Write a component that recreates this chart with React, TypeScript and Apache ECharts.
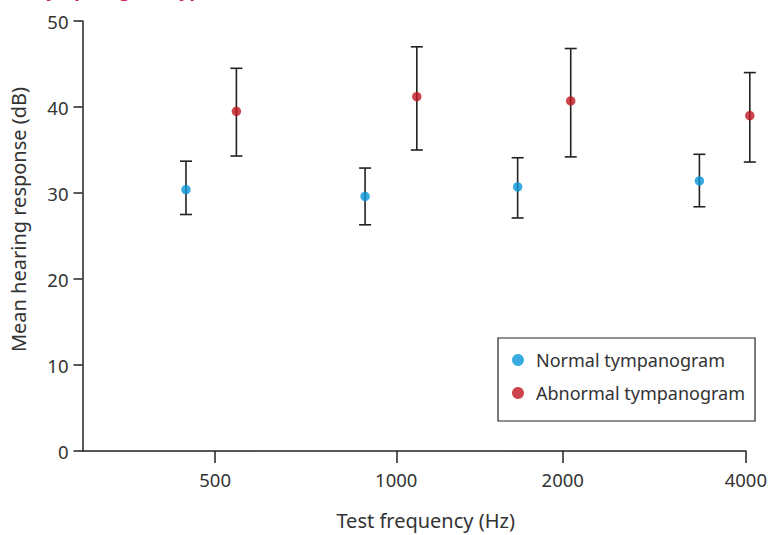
import React, { useEffect, useRef } from "react";
import * as echarts from "echarts";

// Test frequencies and their positions on the (irregularly spaced) x axis, 0..100 units
const freqLabels = ["500", "1000", "2000", "4000"];
const freqTickPos = [20.0, 47.3, 72.4, 100.0];

// Normal tympanogram
const normalX = [15.6, 42.6, 65.6, 93.0];
const normalMean = [30.4, 29.6, 30.7, 31.4];
const normalLow = [27.5, 26.3, 27.1, 28.4];
const normalHigh = [33.7, 32.9, 34.1, 34.5];

// Abnormal tympanogram
const abnormalX = [23.2, 50.4, 73.6, 100.6];
const abnormalMean = [39.5, 41.2, 40.7, 39.0];
const abnormalLow = [34.3, 35.0, 34.2, 33.6];
const abnormalHigh = [44.5, 47.0, 46.8, 44.0];

const yTicks = [0, 10, 20, 30, 40, 50];

const FONT = "Noto Sans";
const TEXT = "#333333";
const AXIS = "#222222";
const BLUE = "#0896da";
const RED = "#c0161f";

export default function App() {
  const ref = useRef<HTMLDivElement>(null);

  useEffect(() => {
    document.body.style.margin = "0";
    if (!ref.current) return;
    const chart = echarts.init(ref.current, undefined, { renderer: "svg" });

    const errData = [
      ...normalX.map((x, i) => [x, normalLow[i], normalHigh[i]]),
      ...abnormalX.map((x, i) => [x, abnormalLow[i], abnormalHigh[i]]),
    ];

    const option: any = {
      animation: false,
      backgroundColor: "#ffffff",
      textStyle: { fontFamily: FONT },
      graphic: [
        {
          type: "text",
          left: 0,
          top: -19,
          style: {
            text: "and tympanogram type",
            font: `bold 18px "${FONT}"`,
            fill: "#c8174b",
          },
        },
      ],
      grid: { left: 82.5, right: 21, top: 21, bottom: 83 },
      legend: {
        orient: "vertical",
        left: 498,
        top: 338,
        data: ["Normal tympanogram", "Abnormal tympanogram"],
        icon: "circle",
        itemWidth: 12,
        itemHeight: 12,
        itemGap: 13,
        padding: [12, 10, 18, 14],
        borderColor: AXIS,
        borderWidth: 1.2,
        borderRadius: 0,
        textStyle: {
          fontFamily: FONT,
          fontSize: 18,
          color: TEXT,
          lineHeight: 20,
          padding: [0, 0, 0, 7],
        },
      },
      xAxis: {
        type: "value",
        min: 0,
        max: 100,
        name: "Test frequency (Hz)",
        nameLocation: "middle",
        nameGap: 59,
        nameTextStyle: { fontFamily: FONT, fontSize: 20, color: TEXT, padding: [0, 0, 0, 23] },
        axisLine: { show: true, lineStyle: { color: AXIS, width: 1.5 } },
        axisTick: {
          show: true,
          length: 12,
          customValues: freqTickPos,
          lineStyle: { color: AXIS, width: 1.5 },
        },
        axisLabel: {
          customValues: freqTickPos,
          margin: 19,
          fontFamily: FONT,
          fontSize: 18.5,
          color: TEXT,
          formatter: (v: number) => {
            const i = freqTickPos.findIndex((p) => Math.abs(p - v) < 0.01);
            return i >= 0 ? freqLabels[i] : "";
          },
        },
        splitLine: { show: false },
      },
      yAxis: {
        type: "value",
        min: yTicks[0],
        max: yTicks[yTicks.length - 1],
        interval: 10,
        name: "Mean hearing response (dB)",
        nameLocation: "middle",
        nameGap: 54,
        nameTextStyle: { fontFamily: FONT, fontSize: 20, color: TEXT, padding: [0, 0, 0, 33] },
        axisLine: { show: true, lineStyle: { color: AXIS, width: 1.5 } },
        axisTick: { show: true, length: 9, lineStyle: { color: AXIS, width: 1.5 } },
        axisLabel: { margin: 14, fontFamily: FONT, fontSize: 18.5, color: TEXT },
        splitLine: { show: false },
      },
      series: [
        {
          type: "custom",
          name: "errors",
          clip: false,
          z: 1,
          data: errData,
          renderItem: (params: any, api: any) => {
            const x = api.value(0);
            const lo = api.coord([x, api.value(1)]);
            const hi = api.coord([x, api.value(2)]);
            const cap = 6;
            const style = { stroke: AXIS, lineWidth: 1.6 };
            return {
              type: "group",
              children: [
                { type: "line", shape: { x1: lo[0], y1: lo[1], x2: hi[0], y2: hi[1] }, style },
                { type: "line", shape: { x1: hi[0] - cap, y1: hi[1], x2: hi[0] + cap, y2: hi[1] }, style },
                { type: "line", shape: { x1: lo[0] - cap, y1: lo[1], x2: lo[0] + cap, y2: lo[1] }, style },
              ],
            };
          },
        },
        {
          type: "scatter",
          name: "Normal tympanogram",
          clip: false,
          z: 3,
          symbol: "circle",
          symbolSize: 9.5,
          itemStyle: { color: BLUE },
          data: normalX.map((x, i) => [x, normalMean[i]]),
        },
        {
          type: "scatter",
          name: "Abnormal tympanogram",
          clip: false,
          z: 3,
          symbol: "circle",
          symbolSize: 9.5,
          itemStyle: { color: RED },
          data: abnormalX.map((x, i) => [x, abnormalMean[i]]),
        },
      ],
    };

    chart.setOption(option);
    return () => chart.dispose();
  }, []);

  return <div ref={ref} style={{ width: 770, height: 535 }} />;
}
